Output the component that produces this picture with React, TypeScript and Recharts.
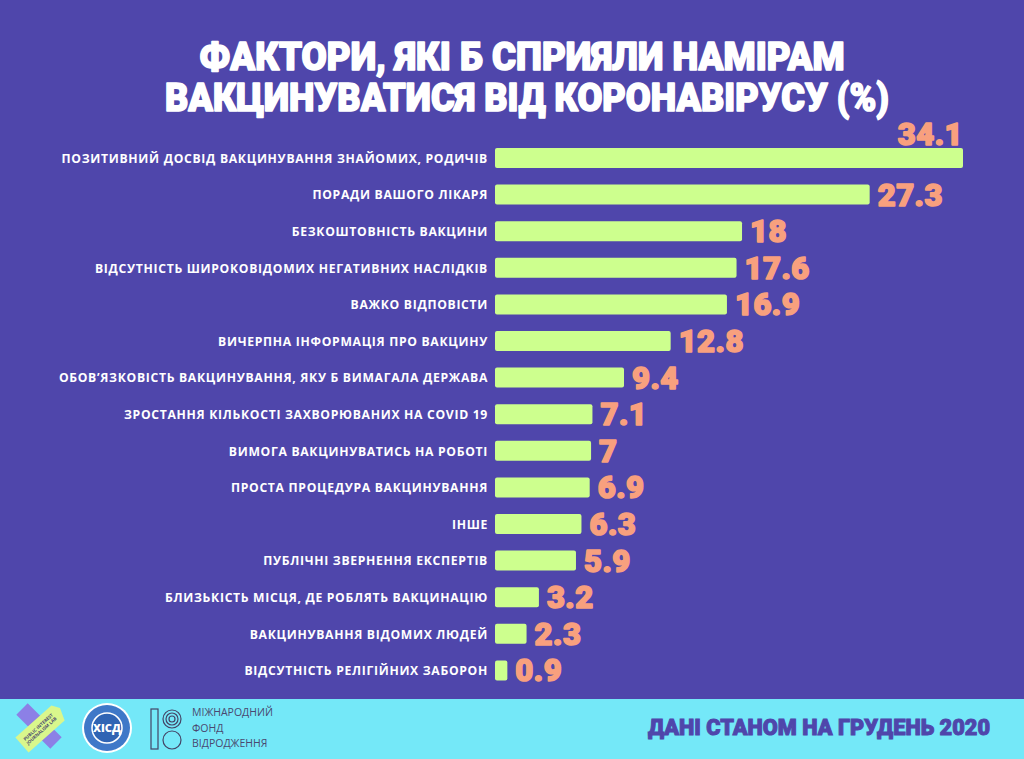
import React from "react";
import { BarChart, Bar, XAxis, YAxis, LabelList } from "recharts";

const categories = [
  "ПОЗИТИВНИЙ ДОСВІД ВАКЦИНУВАННЯ ЗНАЙОМИХ, РОДИЧІВ",
  "ПОРАДИ ВАШОГО ЛІКАРЯ",
  "БЕЗКОШТОВНІСТЬ ВАКЦИНИ",
  "ВІДСУТНІСТЬ ШИРОКОВІДОМИХ НЕГАТИВНИХ НАСЛІДКІВ",
  "ВАЖКО ВІДПОВІСТИ",
  "ВИЧЕРПНА ІНФОРМАЦІЯ ПРО ВАКЦИНУ",
  "ОБОВʼЯЗКОВІСТЬ ВАКЦИНУВАННЯ, ЯКУ Б ВИМАГАЛА ДЕРЖАВА",
  "ЗРОСТАННЯ КІЛЬКОСТІ ЗАХВОРЮВАНИХ НА COVID 19",
  "ВИМОГА ВАКЦИНУВАТИСЬ НА РОБОТІ",
  "ПРОСТА ПРОЦЕДУРА ВАКЦИНУВАННЯ",
  "ІНШЕ",
  "ПУБЛІЧНІ ЗВЕРНЕННЯ ЕКСПЕРТІВ",
  "БЛИЗЬКІСТЬ МІСЦЯ, ДЕ РОБЛЯТЬ ВАКЦИНАЦІЮ",
  "ВАКЦИНУВАННЯ ВІДОМИХ ЛЮДЕЙ",
  "ВІДСУТНІСТЬ РЕЛІГІЙНИХ ЗАБОРОН",
];
const values = [34.1, 27.3, 18, 17.6, 16.9, 12.8, 9.4, 7.1, 7, 6.9, 6.3, 5.9, 3.2, 2.3, 0.9];

const titleLines = ["ФАКТОРИ, ЯКІ Б СПРИЯЛИ НАМІРАМ", "ВАКЦИНУВАТИСЯ ВІД КОРОНАВІРУСУ (%)"];
const footerNote = "ДАНІ СТАНОМ НА ГРУДЕНЬ 2020";
const fundLines = ["МІЖНАРОДНИЙ", "ФОНД", "ВІДРОДЖЕННЯ"];
const labLines = ["PUBLIC INTEREST", "JOURNALISM LAB"];

const data = categories.map((name, i) => ({ name, value: values[i] }));

const BG = "#4F46AB";
const BAR = "#CDFF8E";
const LABEL = "#F8A07E";
const FOOT = "#74E8F8";
const HEAVY = "Roboto, 'Open Sans', sans-serif";

const ValueLabel = (props: any) => {
  const { x, y, width, height, value, index } = props;
  const txt = String(value);
  const common = {
    fill: LABEL, stroke: LABEL, strokeWidth: 1.6, strokeLinejoin: "round" as const,
    fontFamily: HEAVY, fontWeight: 900, fontSize: 31, letterSpacing: 0.5,
  };
  if (index === 0) {
    return <text x={x + width} y={y - 3} textAnchor="end" {...common}>{txt}</text>;
  }
  return <text x={x + width + 8} y={y + height / 2 + 11} textAnchor="start" {...common}>{txt}</text>;
};

const CatTick = (props: any) => {
  const { x, y, payload } = props;
  return (
    <text x={x} y={y + 4.5} textAnchor="end" fill="#FFFFFF"
      fontFamily="'Open Sans', sans-serif" fontWeight={700} fontSize={12.2} letterSpacing={0.68}>
      {payload.value}
    </text>
  );
};

export default function App() {
  return (
    <div style={{ position: "absolute", left: 0, top: 0, width: 1024, height: 759, background: BG, overflow: "hidden" }}>
      <svg width={1024} height={130} style={{ position: "absolute", left: 0, top: 0 }}>
        <text x={522} y={70} textAnchor="middle" fill="#FFFFFF" stroke="#FFFFFF" strokeWidth={1.6}
          strokeLinejoin="round" fontFamily={HEAVY} fontWeight={900}
          fontSize={38} textLength={645} lengthAdjust="spacingAndGlyphs">{titleLines[0]}</text>
        <text x={527} y={111} textAnchor="middle" fill="#FFFFFF" stroke="#FFFFFF" strokeWidth={1.6}
          strokeLinejoin="round" fontFamily={HEAVY} fontWeight={900}
          fontSize={38} textLength={724} lengthAdjust="spacingAndGlyphs">{titleLines[1]}</text>
      </svg>
      <div style={{ position: "absolute", left: 0, top: 0 }}>
        <BarChart width={1024} height={759} data={data} layout="vertical"
          margin={{ top: 140, right: 61, bottom: 70, left: 0 }} barSize={20}>
          <XAxis type="number" domain={[0, 34.1]} hide />
          <YAxis type="category" dataKey="name" width={495} axisLine={false} tickLine={false}
            tickSize={0} tickMargin={7} interval={0} tick={<CatTick />} />
          <Bar dataKey="value" fill={BAR} radius={2} isAnimationActive={false}>
            <LabelList dataKey="value" content={<ValueLabel />} />
          </Bar>
        </BarChart>
      </div>
      <svg width={1024} height={60} style={{ position: "absolute", left: 0, top: 699 }}>
        <rect x={0} y={0} width={1024} height={60} fill={FOOT} />
        {/* logo 1 */}
        <polygon points="27.7,4.3 61.7,38.3 50.3,49.7 16.3,15.7" fill="#8C80E6" />
        <polygon points="15.4,38.5 51.4,6.5 60,9 64.6,21.5 28.6,53.5" fill="#D9F78C" />
        <g transform="rotate(-42 40 30)">
          {labLines.map((l, i) => (
            <text key={l} x={40} y={29 + i * 5} textAnchor="middle" fill="#4A4870"
              fontFamily="'Open Sans', sans-serif" fontWeight={700} fontSize={4.5}>{l}</text>
          ))}
        </g>
        {/* logo 2 */}
        <circle cx={107} cy={29} r={25} fill="#FFFFFF" />
        <circle cx={107} cy={29} r={23} fill="#3F78C8" />
        <circle cx={107} cy={29} r={15} fill="#2F64B4" stroke="#FFFFFF" strokeWidth={1.5} />
        <text x={107} y={33} textAnchor="middle" fill="#FFFFFF" fontFamily="'Open Sans', sans-serif"
          fontWeight={800} fontSize={11}>ХІСД</text>
        {/* logo 3 */}
        <rect x={151} y={10} width={7} height={40} fill="none" stroke="#444466" strokeWidth={1.2} />
        <circle cx={172} cy={20} r={9} fill="none" stroke="#444466" strokeWidth={1.2} />
        <circle cx={172} cy={20} r={6} fill="none" stroke="#444466" strokeWidth={1.2} />
        <circle cx={172} cy={20} r={3} fill="none" stroke="#444466" strokeWidth={1.2} />
        <circle cx={172} cy={41} r={9} fill="none" stroke="#444466" strokeWidth={1.2} />
        {fundLines.map((l, i) => (
          <text key={l} x={192} y={17 + i * 15.5} fill="#4A4870" fontFamily="'Open Sans', sans-serif"
            fontSize={10.5}>{l}</text>
        ))}
        <text x={990} y={36} textAnchor="end" fill={BG} stroke={BG} strokeWidth={1} fontFamily={HEAVY}
          fontWeight={900} fontSize={22} textLength={342} lengthAdjust="spacingAndGlyphs">{footerNote}</text>
      </svg>
    </div>
  );
}
